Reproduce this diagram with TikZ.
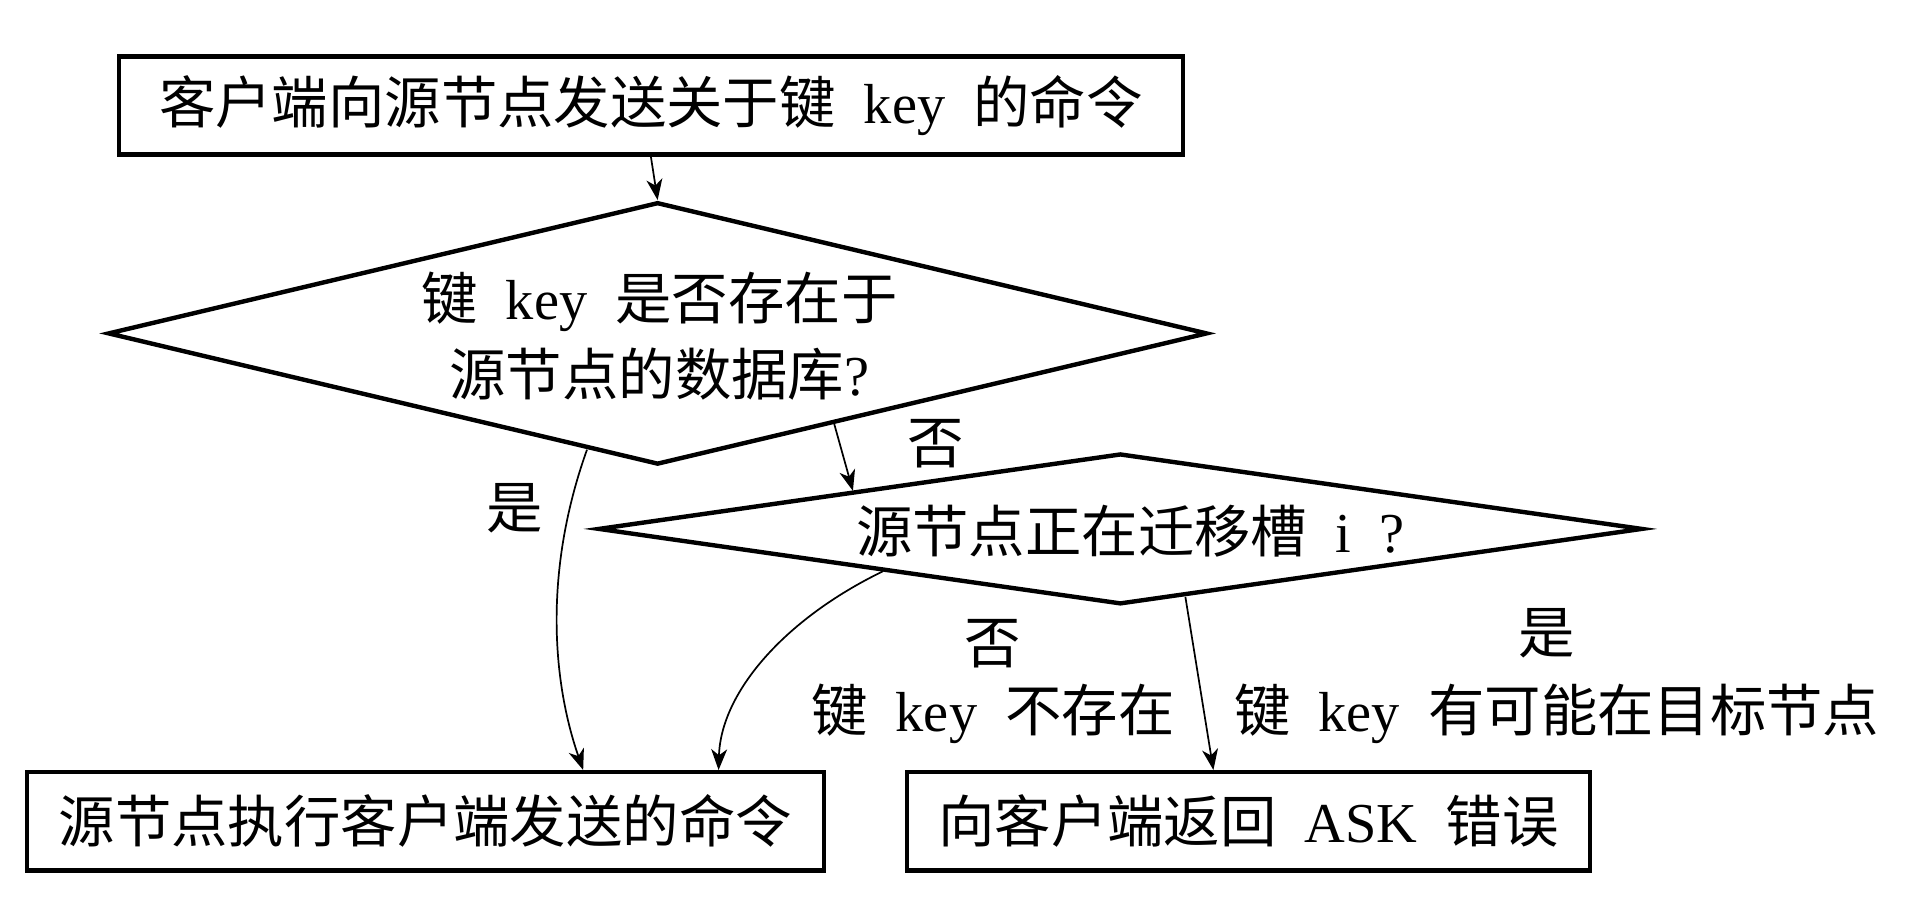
\documentclass[tikz,border=0pt]{standalone}
\usepackage{fontspec}
\setmainfont{Liberation Serif}
\newfontfamily\cjk{Noto Sans CJK SC}
\newcommand\wgap{\hspace{0.5em}}
\usetikzlibrary{shapes.geometric,arrows.meta,calc}
\tikzset{
  boxnode/.style={draw,line width=3.6pt,inner sep=0pt,minimum height=80pt,font=\fontsize{46}{62}\selectfont},
  decision/.style={draw,diamond,line width=3.6pt,inner sep=0pt},
  txt/.style={inner sep=0pt,font=\fontsize{46}{62}\selectfont,align=center},
  conn/.style={line width=1.4pt,-{Stealth[length=17pt,width=13pt,inset=5pt]}}
}
\begin{document}
\begin{tikzpicture}[x=1pt,y=-1pt]
\useasboundingbox (0,0) rectangle (1568,741);
% boxes
\node[boxnode,minimum width=868pt] (top) at (531,86) {{\cjk 客户端向源节点发送关于键}\wgap key\wgap{\cjk 的命令}};
\node[boxnode,minimum width=650pt] (bl) at (347,670) {\cjk 源节点执行客户端发送的命令};
\node[boxnode,minimum width=557pt] (br) at (1018.5,670) {{\cjk 向客户端返回}\wgap ASK\wgap{\cjk 错误}};
% diamonds
\node[decision,minimum width=897pt,minimum height=214pt] (d1) at (536.5,272) {};
\node[decision,minimum width=852pt,minimum height=123pt] (d2) at (914,431.5) {};
% diamond texts
\node[txt] (t1) at (538,274) {{\cjk 键}\wgap key\wgap{\cjk 是否存在于}\\{\cjk 源节点的数据库}?};
\node[txt] (t2) at (922,433) {{\cjk 源节点正在迁移槽}\wgap i\wgap ?};
% edge points
\coordinate (d1no) at ($(d1.south)!0.32!(d1.east)$);
\coordinate (d2in) at ($(d2.west)!0.49!(d2.north)$);
\coordinate (d1yes) at ($(d1.west)!0.872!(d1.south)$);
\coordinate (d2no) at ($(d2.west)!0.547!(d2.south)$);
\coordinate (d2yes) at ($(d2.south)!0.124!(d2.east)$);
\coordinate (blA) at ($(bl.north west)!0.697!(bl.north east)$);
\coordinate (blB) at ($(bl.north west)!0.866!(bl.north east)$);
\coordinate (brA) at ($(br.north west)!0.449!(br.north east)$);
% connectors
\draw[conn] (top.south) -- (d1.north);
\draw[conn] (d1no) -- (d2in);
\draw[conn] (d1yes) .. controls (442,470) and (452,560) .. (blA);
\draw[conn] (d2no) .. controls (640,505) and (588,565) .. (blB);
\draw[conn] (d2yes) -- (brA);
% labels
\node[txt] (lno1) at (763,362) {\cjk 否};
\node[txt] (lyes1) at (420,415) {\cjk 是};
\node[txt] (lno2) at (810,525) {\cjk 否};
\node[txt] (lno2b) at (810,582) {{\cjk 键}\wgap key\wgap{\cjk 不存在}};
\node[txt] (lyes2) at (1262,517) {\cjk 是};
\node[txt] (lyes2b) at (1270,582) {{\cjk 键}\wgap key\wgap{\cjk 有可能在目标节点}};
\end{tikzpicture}
\end{document}
